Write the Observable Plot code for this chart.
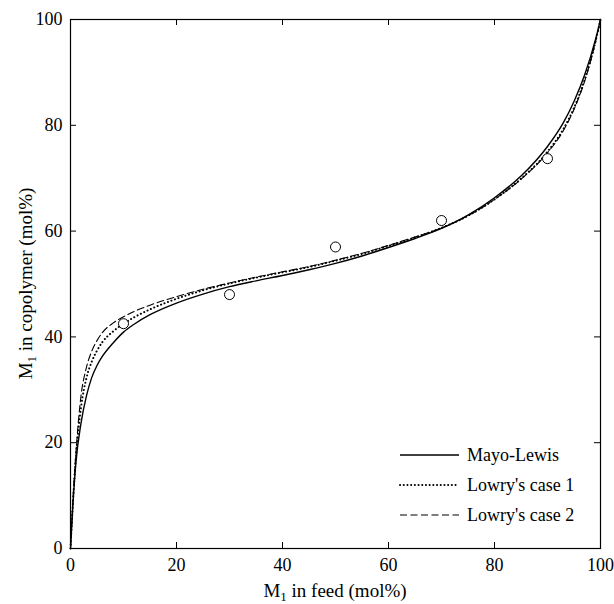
<!DOCTYPE html>
<html>
<head>
<meta charset="utf-8">
<script src="https://cdn.jsdelivr.net/npm/d3@7"></script>
<script src="https://cdn.jsdelivr.net/npm/@observablehq/plot@0.6"></script>
<style>
  html, body { margin: 0; padding: 0; background: white; }
  #chart { width: 614px; height: 604px; }
</style>
</head>
<body>
<div id="chart"></div>
<script>
// M1 in feed (mol%) sample positions
const feed      = [0, 0.5, 1, 2, 3, 4, 5, 6, 8, 10, 12, 15, 20, 25, 30, 35, 40, 45, 50, 55, 60, 65, 70, 75, 80, 85, 90, 93, 95, 97, 99, 100];
// M1 in copolymer (mol%) for each model
const mayoLewis = [0, 9, 16, 23.8, 28.8, 32.3, 34.6, 36.3, 38.8, 40.9, 42.4, 44.2, 46.4, 48.1, 49.5, 50.6, 51.6, 52.7, 53.9, 55.3, 56.9, 58.6, 60.5, 63, 66.3, 70.4, 76, 80.5, 84.5, 89.5, 96, 100];
const lowry1    = [0, 9.5, 17, 26.8, 32.2, 35.3, 37.4, 39, 41, 42.5, 43.7, 45.2, 47.2, 48.8, 50.1, 51.2, 52.2, 53.2, 54.4, 55.7, 57.2, 58.8, 60.6, 62.9, 66, 69.9, 75, 79.3, 83.3, 88.6, 95.6, 100];
const lowry2    = [0, 10, 17.8, 29, 34.2, 37.3, 39.3, 40.8, 42.6, 43.8, 44.8, 46, 47.6, 49, 50.2, 51.3, 52.3, 53.3, 54.5, 55.8, 57.3, 58.9, 60.6, 62.9, 66, 69.8, 74.8, 79, 83, 88.3, 95.5, 100];
// experimental points
const expFeed  = [10, 30, 50, 70, 90];
const expCopol = [42.5, 48, 57, 62, 73.7];
// tick values
const ticks = [0, 20, 40, 60, 80, 100];
const seriesNames = ["Mayo-Lewis", "Lowry's case 1", "Lowry's case 2"];

const W = 614, H = 604, mL = 70, mR = 14, mT = 19, mB = 56;
const innerH = H - mT - mB, innerW = W - mL - mR;
const tickLen = 6;

const mk = ys => feed.map((x, i) => ({x, y: ys[i]}));
const ml = mk(mayoLewis), l1 = mk(lowry1), l2 = mk(lowry2);
const exp = expFeed.map((x, i) => ({x, y: expCopol[i]}));

const plot = Plot.plot({
  width: W, height: H,
  marginLeft: mL, marginRight: mR, marginTop: mT, marginBottom: mB,
  x: {domain: [0, 100]},
  y: {domain: [0, 100]},
  style: {fontFamily: "'Liberation Serif', 'DejaVu Serif', serif", fontSize: "18px", background: "white", color: "black"},
  marks: [
    Plot.line(ml, {x: "x", y: "y", stroke: "black", strokeWidth: 1.4, curve: "monotone-x"}),
    Plot.line(l1, {x: "x", y: "y", stroke: "black", strokeWidth: 2, strokeDasharray: "0.1,3.6", strokeLinecap: "round", curve: "monotone-x"}),
    Plot.line(l2, {x: "x", y: "y", stroke: "black", strokeWidth: 1.1, strokeDasharray: "7,3.5", curve: "monotone-x"}),
    Plot.dot(exp, {x: "x", y: "y", r: 5, stroke: "black", fill: "white", strokeWidth: 1}),
    Plot.ruleX(ticks, {x: d => d, insetTop: innerH - tickLen, stroke: "black", strokeWidth: 1}),
    Plot.ruleX(ticks, {x: d => d, insetBottom: innerH - tickLen, stroke: "black", strokeWidth: 1}),
    Plot.ruleY(ticks, {y: d => d, insetRight: innerW - tickLen, stroke: "black", strokeWidth: 1}),
    Plot.ruleY(ticks, {y: d => d, insetLeft: innerW - tickLen, stroke: "black", strokeWidth: 1}),
    Plot.frame({stroke: "black", strokeWidth: 1.2}),
    Plot.axisX({ticks: ticks, tickSize: 0, tickPadding: 10, label: null, fontSize: 18}),
    Plot.axisY({ticks: ticks, tickSize: 0, tickPadding: 8, label: null, fontSize: 18})
  ]
});
document.getElementById("chart").appendChild(plot);

const svg = d3.select(plot);
const font = "'Liberation Serif', 'DejaVu Serif', serif";

// X axis title
const xt = svg.append("text")
  .attr("x", mL + innerW / 2).attr("y", 597)
  .attr("text-anchor", "middle").attr("font-family", font).attr("font-size", 19).attr("fill", "black");
xt.append("tspan").text("M");
xt.append("tspan").attr("font-size", 13).attr("dy", 4).text("1");
xt.append("tspan").attr("dy", -4).text(" in feed (mol%)");

// Y axis title
const yt = svg.append("text")
  .attr("transform", `translate(32,${mT + innerH / 2}) rotate(-90)`)
  .attr("text-anchor", "middle").attr("font-family", font).attr("font-size", 19).attr("fill", "black");
yt.append("tspan").text("M");
yt.append("tspan").attr("font-size", 13).attr("dy", 4).text("1");
yt.append("tspan").attr("dy", -4).text(" in copolymer (mol%)");

// Legend
const legendStyles = [
  {w: 1.4, dash: null, cap: "butt"},
  {w: 2, dash: "0.1,3.6", cap: "round"},
  {w: 1.1, dash: "7,3.5", cap: "butt"}
];
const lg = svg.append("g").attr("text-anchor", "start");
seriesNames.forEach((name, i) => {
  const yy = 455 + i * 30;
  const s = legendStyles[i];
  const ln = lg.append("line").attr("x1", 400).attr("x2", 459).attr("y1", yy).attr("y2", yy)
    .attr("stroke", "black").attr("stroke-width", s.w).attr("stroke-linecap", s.cap);
  if (s.dash) ln.attr("stroke-dasharray", s.dash);
  lg.append("text").attr("x", 467).attr("y", yy).attr("dy", "0.35em")
    .attr("text-anchor", "start")
    .attr("font-family", font).attr("font-size", 18).attr("fill", "black").text(name);
});
</script>
</body>
</html>
